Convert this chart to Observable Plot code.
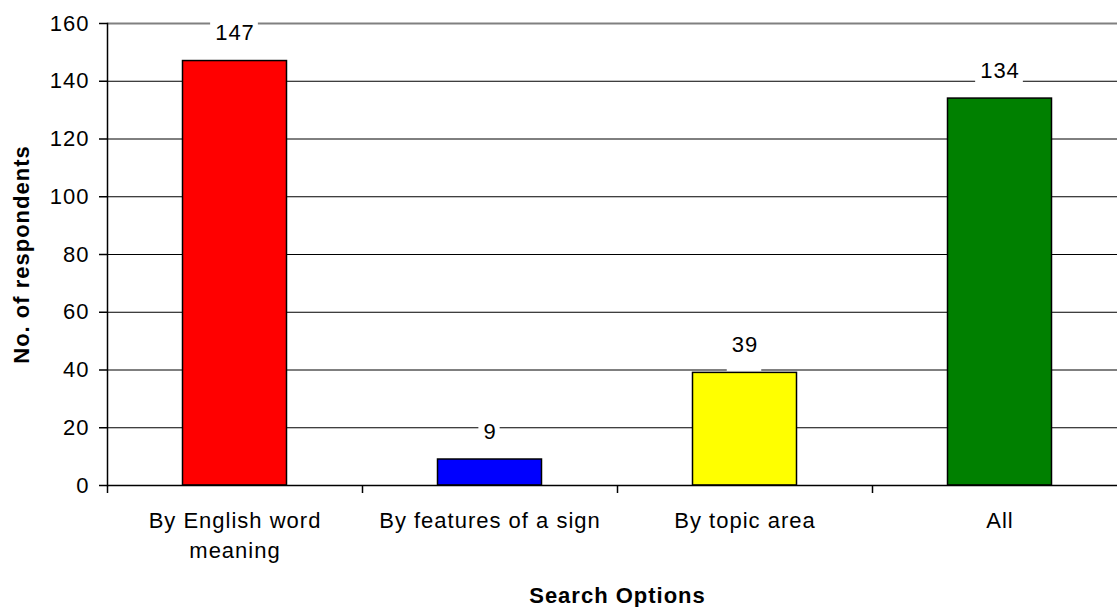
<!DOCTYPE html>
<html><head><meta charset="utf-8">
<script src="https://cdn.jsdelivr.net/npm/d3@7"></script>
<script src="https://cdn.jsdelivr.net/npm/@observablehq/plot@0.6"></script>
<style>html,body{margin:0;padding:0;background:#fff;overflow:hidden}</style>
</head><body><div id="chart"></div>
<script>
const categories = ["By English word meaning", "By features of a sign", "By topic area", "All"];
const tickLabels = ["By English word\nmeaning", "By features of a sign", "By topic area", "All"];
const respondents = [147, 9, 39, 134];
const barColors = ["#FF0000", "#0000FF", "#FFFF00", "#008000"];
const yTicks = [0, 20, 40, 60, 80, 100, 120, 140, 160];
const yLabel = "No. of respondents";
const xLabel = "Search Options";

const W = 1117, H = 607, ML = 107, MR = -10, MT = 23, MB = 122;
const band = (W - ML - MR) / categories.length;
const data = categories.map((c, i) => ({category: c, value: respondents[i], color: barColors[i]}));
const labelOf = new Map(categories.map((c, i) => [c, tickLabels[i]]));

const chart = Plot.plot({
  width: W, height: H, marginLeft: ML, marginRight: MR, marginTop: MT, marginBottom: MB,
  style: {fontFamily: "'Liberation Sans', Arial, sans-serif", fontSize: "22px", letterSpacing: "1px", color: "#000", background: "#fff", overflow: "visible"},
  x: {domain: categories, padding: 0, axis: null},
  y: {domain: [0, 160], axis: null},
  color: {type: "identity"},
  marks: [
    Plot.ruleY(yTicks.filter(t => t < 160), {stroke: "#000", strokeWidth: 1}),
    Plot.ruleY([160], {stroke: "#808080", strokeWidth: 2, className: "topline"}),
    Plot.axisY({ticks: yTicks, tickSize: 8, tickPadding: 10, label: null, strokeWidth: 1.5}),
    Plot.axisX({tickSize: 8, tickFormat: () => "", dx: -band / 2, label: null, strokeWidth: 1.5}),
    Plot.axisX({tickSize: 0, tickPadding: 21, tickFormat: d => labelOf.get(d), lineHeight: 1.36, label: null}),
    Plot.barY(data, {x: "category", y: "value", fill: "color", stroke: "#000", strokeWidth: 1.5, insetLeft: 75.5, insetRight: 75.5, className: "bars"}),
    Plot.frame({anchor: "left", strokeWidth: 1.5}),
    Plot.ruleY([0], {strokeWidth: 1.5}),
    Plot.text(data, {x: "category", y: "value", text: d => String(d.value), dy: -28, fill: "#000", className: "vlabel"}),
    Plot.text([yLabel], {frameAnchor: "left", textAnchor: "middle", lineAnchor: "middle", rotate: -90, dx: -86, fontWeight: "bold", fontSize: 22, letterSpacing: "1.5px"}),
    Plot.text([xLabel], {frameAnchor: "bottom", textAnchor: "middle", lineAnchor: "middle", dy: 110, fontWeight: "bold"})
  ]
});
document.getElementById("chart").appendChild(chart);

// white label boxes (Excel style) that interrupt the gridlines, placed under the bars
const svgRect = chart.getBoundingClientRect();
const barsGroup = chart.querySelector("g.bars");
chart.querySelectorAll("g.vlabel text").forEach(t => {
  const r = t.getBoundingClientRect();
  const box = document.createElementNS("http://www.w3.org/2000/svg", "rect");
  box.setAttribute("x", r.left - svgRect.left - 5);
  box.setAttribute("y", r.top - svgRect.top - 2);
  box.setAttribute("width", r.width + 8);
  box.setAttribute("height", r.height + 16);
  box.setAttribute("fill", "#fff");
  chart.insertBefore(box, barsGroup);
});
</script>
</body></html>
